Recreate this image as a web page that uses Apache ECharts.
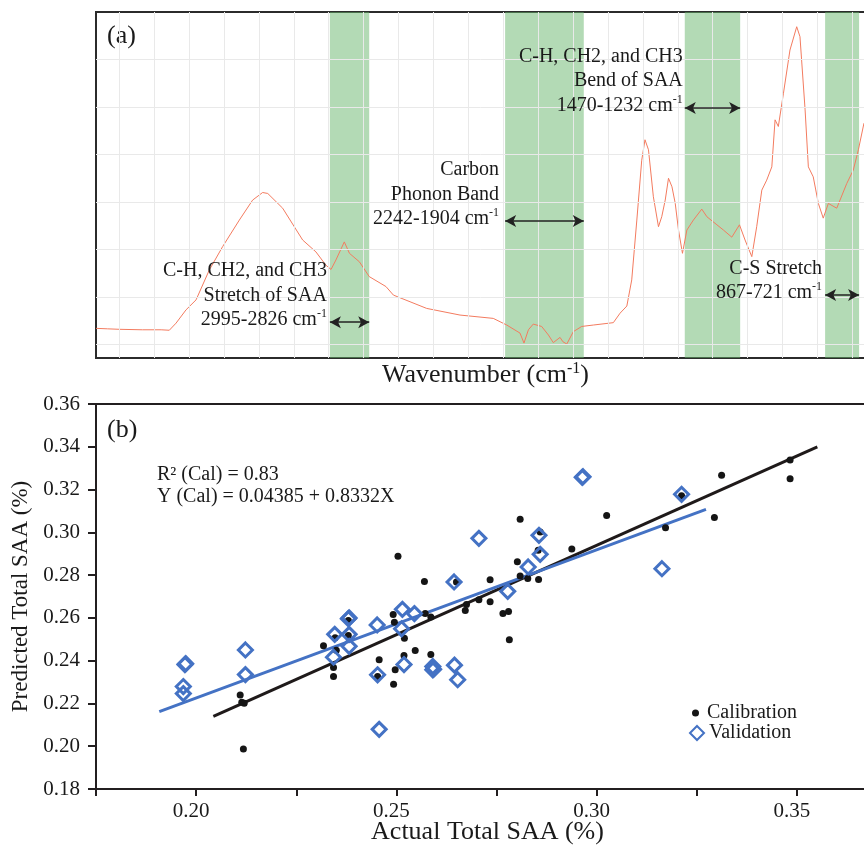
<!DOCTYPE html>
<html><head><meta charset="utf-8">
<script src="https://cdn.jsdelivr.net/npm/echarts@6/dist/echarts.min.js"></script>
<style>html,body{margin:0;padding:0;background:#fff}#c{width:864px;height:846px}</style>
</head><body><div id="c"></div>
<script>
const FONT = '"Liberation Serif","Times New Roman",serif';

// ---------- panel (a): spectrum ----------
const wavenumber = [4000,3950,3900,3800,3720,3685,3656,3613,3570,3513,3456,3384,3327,3284,3262,3198,3112,3055,3012,2990,2969,2933,2911,2868,2826,2754,2722,2579,2436,2293,2235,2178,2161,2142,2121,2085,2056,2035,2006,1994,1977,1949,1913,1863,1777,1748,1719,1698,1676,1655,1641,1626,1605,1583,1569,1554,1540,1525,1511,1497,1480,1461,1433,1397,1375,1332,1304,1268,1235,1211,1182,1161,1139,1118,1096,1082,1068,1046,1018,989,975,953,939,918,896,875,853,817,774,746,724,700];
const absorbance = [0.34,0.33,0.32,0.31,0.31,0.30,0.45,0.73,0.94,1.57,2.06,2.62,3.04,3.20,3.18,2.87,2.20,1.95,1.67,1.58,1.78,2.16,1.92,1.74,1.43,1.22,1.04,0.76,0.62,0.55,0.41,0.24,0.03,0.31,0.43,0.38,0.20,0.04,0.15,0.06,0.01,0.27,0.38,0.41,0.46,0.66,0.81,1.36,2.62,3.88,4.31,4.10,3.11,2.48,2.69,3.04,3.50,3.32,2.97,2.41,1.92,2.41,2.62,2.85,2.69,2.52,2.41,2.26,2.52,2.20,1.85,2.48,3.25,3.46,3.74,4.73,4.59,5.29,6.20,6.69,6.48,4.94,3.74,3.53,2.97,2.66,2.97,2.87,3.39,3.67,4.10,4.66];
const bands = [[2995,2826],[2242,1904],[1470,1232],[867,721]];
const bandTitles = [['C-H, CH2, and CH3','Stretch of SAA'],['Carbon','Phonon Band'],['C-H, CH2, and CH3','Bend of SAA'],['C-S Stretch']];
const arrowLevels = [0.47, 2.6, 4.98, 1.04];
const gridWavenumbers = [3900,3750,3600,3450,3300,3150,3000,2850,2700,2550,2400,2250,2100,1950,1800,1650,1500,1350,1200,1050,900,750];
const gridLevels = [0,1,2,3,4,5,6];

// ---------- panel (b): calibration / validation ----------
const calActual = [0.2110,0.2114,0.2120,0.2118,0.2318,0.2347,0.2350,0.2343,0.2343,0.2380,0.2380,0.2457,0.2453,0.2492,0.2495,0.2520,0.2519,0.2497,0.2493,0.2547,0.2570,0.2572,0.2586,0.2586,0.2650,0.2672,0.2675,0.2706,0.2734,0.2734,0.2766,0.2780,0.2782,0.2802,0.2809,0.2809,0.2828,0.2855,0.2859,0.2854,0.2938,0.3025,0.3172,0.3212,0.3294,0.3312,0.3483,0.3483,0.2504];
const calPredicted = [0.2240,0.2206,0.2201,0.1987,0.2470,0.2507,0.2449,0.2368,0.2326,0.2518,0.2588,0.2404,0.2326,0.2616,0.2580,0.2505,0.2424,0.2357,0.2290,0.2448,0.2770,0.2620,0.2604,0.2429,0.2768,0.2635,0.2663,0.2685,0.2778,0.2676,0.2620,0.2630,0.2498,0.2863,0.2796,0.3061,0.2784,0.2779,0.3002,0.2916,0.2922,0.3079,0.3022,0.3171,0.3069,0.3267,0.3338,0.3250,0.2888];
const valActual = [0.1972,0.1974,0.1968,0.1968,0.2123,0.2123,0.2380,0.2382,0.2346,0.2382,0.2382,0.2343,0.2452,0.2453,0.2457,0.2515,0.2545,0.2513,0.2519,0.2591,0.2591,0.2593,0.2645,0.2653,0.2644,0.2778,0.2829,0.2706,0.2856,0.2859,0.2964,0.2966,0.3163,0.3212];
const valPredicted = [0.2382,0.2386,0.2279,0.2246,0.2450,0.2335,0.2596,0.2600,0.2523,0.2523,0.2467,0.2416,0.2567,0.2334,0.2079,0.2640,0.2620,0.2549,0.2382,0.2373,0.2357,0.2360,0.2379,0.2311,0.2768,0.2724,0.2838,0.2972,0.2986,0.2897,0.3257,0.3260,0.2830,0.3178];
const calFitX = [0.2043, 0.3551], calFitY = [0.2140, 0.3400];
const valFitX = [0.1908, 0.3273], valFitY = [0.2162, 0.3107];
const statLines = ['R\u00B2 (Cal) = 0.83', 'Y (Cal) = 0.04385 + 0.8332X'];

const zip = (a, b) => a.map((v, i) => [v, b[i]]);
const supRich = {
  sup: { fontFamily: FONT, fontSize: 12, lineHeight: 15, verticalAlign: 'top', color: '#1a1a1a' }
};

const chart = echarts.init(document.getElementById('c'), null, { renderer: 'canvas' });

const option = {
  animation: false,
  backgroundColor: '#fff',
  textStyle: { fontFamily: FONT },
  grid: [
    { left: 96, top: 12, width: 771, height: 346, show: true, borderColor: '#2b2b2b', borderWidth: 2,
      backgroundColor: 'transparent', containLabel: false, outerBoundsMode: 'none' },
    { left: 96, top: 404, width: 771, height: 385, show: true, borderColor: '#231f20', borderWidth: 2,
      backgroundColor: 'transparent', containLabel: false, outerBoundsMode: 'none' }
  ],
  xAxis: [
    { gridIndex: 0, type: 'value', inverse: true, min: 687, max: 4000,
      axisLine: { show: false }, axisTick: { show: false }, axisLabel: { show: false }, splitLine: { show: false },
      name: 'Wavenumber (cm{sup|-1})', nameLocation: 'middle', nameGap: 3,
      nameTextStyle: { fontFamily: FONT, fontSize: 26, lineHeight: 28, color: '#1a1a1a', padding: [0, 0, 0, 8],
        rich: { sup: { fontFamily: FONT, fontSize: 16, lineHeight: 17, verticalAlign: 'top', color: '#1a1a1a' } } } },
    { gridIndex: 1, type: 'value', min: 0.175, max: 0.3675, interval: 0.025,
      axisLine: { show: true, lineStyle: { color: '#231f20', width: 2 } },
      axisTick: { show: true, inside: false, length: 7, lineStyle: { color: '#231f20', width: 2 } },
      axisLabel: { show: true, margin: 12, fontFamily: FONT, fontSize: 21, color: '#1a1a1a', padding: [0, 10, 0, 0],
        formatter: v => { const r = Math.round(v * 1000); return (r % 50 === 0) ? (r / 1000).toFixed(2) : ''; } },
      splitLine: { show: false },
      name: 'Actual Total SAA (%)', nameLocation: 'middle', nameGap: 29, nameMoveOverlap: false,
      nameTextStyle: { fontFamily: FONT, fontSize: 26, lineHeight: 28, color: '#1a1a1a', padding: [0, 0, 0, 12] } }
  ],
  yAxis: [
    { gridIndex: 0, type: 'value', min: -0.284, max: 7, show: false },
    { gridIndex: 1, type: 'value', min: 0.18, max: 0.36, interval: 0.02,
      axisLine: { show: true, lineStyle: { color: '#231f20', width: 2 } },
      axisTick: { show: true, inside: false, length: 8, lineStyle: { color: '#231f20', width: 2 } },
      axisLabel: { show: true, margin: 16, fontFamily: FONT, fontSize: 21, color: '#1a1a1a', formatter: v => v.toFixed(2) },
      splitLine: { show: false },
      name: 'Predicted Total SAA (%)', nameLocation: 'middle', nameGap: 62,
      nameTextStyle: { fontFamily: FONT, fontSize: 23, color: '#1a1a1a' } }
  ],
  legend: [
    { data: ['Calibration'], left: 687, top: 698, orient: 'vertical', itemWidth: 7, itemHeight: 7,
      textStyle: { fontFamily: FONT, fontSize: 20, color: '#1a1a1a', padding: [0, 0, 0, 3] } },
    { data: ['Validation'], left: 684, top: 718, orient: 'vertical', itemWidth: 14, itemHeight: 14,
      textStyle: { fontFamily: FONT, fontSize: 20, color: '#1a1a1a', padding: [0, 0, 0, 0] } }
  ],
  series: [
    { name: 'grid', type: 'line', xAxisIndex: 0, yAxisIndex: 0, data: [], z: 1, silent: true,
      markLine: { silent: true, symbol: 'none', label: { show: false },
        lineStyle: { color: '#e9e9e9', width: 1, type: 'solid' },
        data: gridWavenumbers.map(w => ({ xAxis: w })).concat(gridLevels.map(l => ({ yAxis: l }))) } },
    { name: 'spectrum', type: 'line', xAxisIndex: 0, yAxisIndex: 0, data: zip(wavenumber, absorbance),
      showSymbol: false, symbol: 'none', z: 2, lineStyle: { color: '#f37b5f', width: 1 } },
    { name: 'bands', type: 'line', xAxisIndex: 0, yAxisIndex: 0, data: [], z: 3, silent: true,
      markArea: { silent: true, itemStyle: { color: 'rgba(104,182,108,0.5)' },
        data: bands.map(b => [{ xAxis: b[0] }, { xAxis: b[1] }]) } },
    { name: 'arrows', type: 'line', xAxisIndex: 0, yAxisIndex: 0, data: [], z: 4, silent: true,
      markLine: { silent: true, symbol: ['arrow', 'arrow'], symbolSize: [9, 11], label: { show: false },
        lineStyle: { color: '#222', width: 1.5, type: 'solid' },
        data: bands.map((b, i) => [{ coord: [b[0], arrowLevels[i]] }, { coord: [b[1], arrowLevels[i]] }]) } },
    { name: 'calFit', type: 'line', xAxisIndex: 1, yAxisIndex: 1, data: zip(calFitX, calFitY),
      symbol: 'none', z: 2, lineStyle: { color: '#1f1a1a', width: 3 } },
    { name: 'valFit', type: 'line', xAxisIndex: 1, yAxisIndex: 1, data: zip(valFitX, valFitY),
      symbol: 'none', z: 2, lineStyle: { color: '#4472c4', width: 3 } },
    { name: 'Calibration', type: 'scatter', xAxisIndex: 1, yAxisIndex: 1, data: zip(calActual, calPredicted),
      symbol: 'circle', symbolSize: 7, z: 3, itemStyle: { color: '#151515', opacity: 1 } },
    { name: 'Validation', type: 'scatter', xAxisIndex: 1, yAxisIndex: 1, data: zip(valActual, valPredicted),
      symbol: 'diamond', symbolSize: 14, z: 4,
      itemStyle: { color: 'rgba(255,255,255,0)', borderColor: '#4472c4', borderWidth: 3, opacity: 1 } }
  ]
};
chart.setOption(option);

// annotations anchored to the band edges
const labelGaps = [3, 6, 2, 3];
const graphics = [];
bands.forEach((b, i) => {
  const p = chart.convertToPixel({ xAxisIndex: 0, yAxisIndex: 0 }, [b[0], arrowLevels[i]]);
  const lines = bandTitles[i].concat([b[0] + '-' + b[1] + ' cm{sup|-1}']);
  graphics.push({ type: 'text', x: p[0] - labelGaps[i], y: p[1] + 10, silent: true, z: 10,
    style: { text: lines.join('\n'), fill: '#1a1a1a', fontFamily: FONT, fontSize: 20, lineHeight: 24.5,
      align: 'right', verticalAlign: 'bottom', textAlign: 'right', textVerticalAlign: 'bottom', rich: supRich } });
});
graphics.push({ type: 'text', x: 107, y: 36, silent: true,
  style: { text: '(a)', fill: '#1a1a1a', fontFamily: FONT, fontSize: 26, align: 'left', verticalAlign: 'middle', textAlign: 'left', textVerticalAlign: 'middle' } });
graphics.push({ type: 'text', x: 107, y: 430, silent: true,
  style: { text: '(b)', fill: '#1a1a1a', fontFamily: FONT, fontSize: 26, align: 'left', verticalAlign: 'middle', textAlign: 'left', textVerticalAlign: 'middle' } });
statLines.forEach((t, i) => {
  graphics.push({ type: 'text', x: 157, y: 475 + i * 22, silent: true,
    style: { text: t, fill: '#1a1a1a', fontFamily: FONT, fontSize: 20, align: 'left', verticalAlign: 'middle', textAlign: 'left', textVerticalAlign: 'middle' } });
});
chart.setOption({ graphic: graphics });
</script></body></html>
